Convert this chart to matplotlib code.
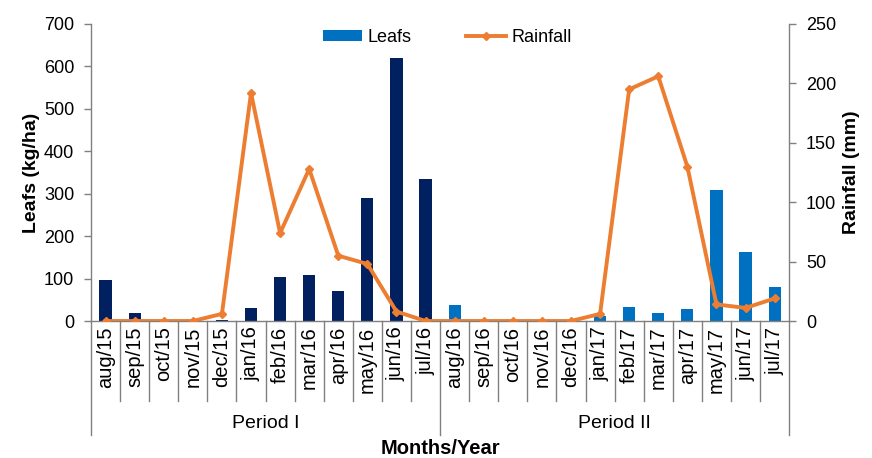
import matplotlib
matplotlib.use("Agg")
import matplotlib.pyplot as plt
import numpy as np

plt.rcParams["font.family"] = ["Liberation Sans", "DejaVu Sans"]

months = ["aug/15", "sep/15", "oct/15", "nov/15", "dec/15", "jan/16",
          "feb/16", "mar/16", "apr/16", "may/16", "jun/16", "jul/16",
          "aug/16", "sep/16", "oct/16", "nov/16", "dec/16", "jan/17",
          "feb/17", "mar/17", "apr/17", "may/17", "jun/17", "jul/17"]
periods = ["Period I", "Period II"]
leafs_p1 = [97, 19, 0, 0, 3, 31, 103, 109, 71, 289, 620, 335]
leafs_p2 = [38, 0, 0, 0, 0, 12, 34, 18, 28, 309, 162, 79]
rainfall = [0, 0, 0, 0, 6, 192, 74, 128, 55, 48, 8, 0,
            0, 0, 0, 0, 0, 6, 195, 206, 130, 14, 11, 19]

NAVY = "#002060"
BLUE = "#0070C0"
ORANGE = "#ED7D31"
GREY = "#808080"

fig = plt.figure(figsize=(8.72, 4.58), dpi=100)
ax = fig.add_axes([0.1044, 0.2991, 0.8006, 0.6485])
ax2 = ax.twinx()

n = len(months)
x = np.arange(n)
n1 = len(leafs_p1)
ax.bar(x[:n1], leafs_p1, width=0.42, color=NAVY, zorder=2)
ax.bar(x[n1:], leafs_p2, width=0.42, color=BLUE, zorder=2, label="Leafs")
ax2.plot(x, rainfall, color=ORANGE, lw=2.8, marker="D", ms=4,
         label="Rainfall", zorder=3)

ax.set_xlim(-0.5, n - 0.5)
ax.set_ylim(0, 700)
ax.set_yticks(np.arange(0, 701, 100))
ax2.set_ylim(0, 250)
ax2.set_yticks(np.arange(0, 251, 50))

for a in (ax, ax2):
    a.spines["top"].set_visible(False)
    for s in a.spines.values():
        s.set_color(GREY)
        s.set_linewidth(1)
    a.tick_params(axis="y", colors=GREY, labelcolor="black", labelsize=13,
                  length=5, width=1, pad=7)
ax2.spines["left"].set_visible(False)
ax.spines["right"].set_visible(False)
ax2.spines["bottom"].set_visible(False)

ax.set_xticks(x)
ax.set_xticklabels(months, rotation=90, fontsize=14.5)
ax.tick_params(axis="x", length=0, pad=4)

# category separators and period separators below the axis
trans = ax.get_xaxis_transform()
for b in np.arange(-0.5, n, 1.0):
    long_line = b in (-0.5, n1 - 0.5, n - 0.5)
    y_end = -0.385 if long_line else -0.27
    ax.plot([b, b], [0, y_end], color=GREY, lw=1, transform=trans, clip_on=False)

for i, p in enumerate(periods):
    cx = (n1 - 1) / 2 if i == 0 else n1 + (n - n1 - 1) / 2
    ax.text(cx, -0.345, p, transform=trans, ha="center", va="center", fontsize=14)

ax.text((n - 1) / 2, -0.43, "Months/Year", transform=trans, ha="center",
        va="center", fontsize=14.5, fontweight="bold")

ax.set_ylabel("Leafs (kg/ha)", fontsize=14, fontweight="bold", labelpad=3)
ax2.set_ylabel("Rainfall (mm)", fontsize=14, fontweight="bold", labelpad=5)

h1, l1 = ax.get_legend_handles_labels()
h2, l2 = ax2.get_legend_handles_labels()
ax2.legend(h1 + h2, l1 + l2, loc="center", bbox_to_anchor=(0.51, 0.955),
           ncol=2, frameon=False, fontsize=13, handlelength=2.2,
           handleheight=0.5, columnspacing=3.0, handletextpad=0.3)

fig.savefig("out.png", dpi=100)
